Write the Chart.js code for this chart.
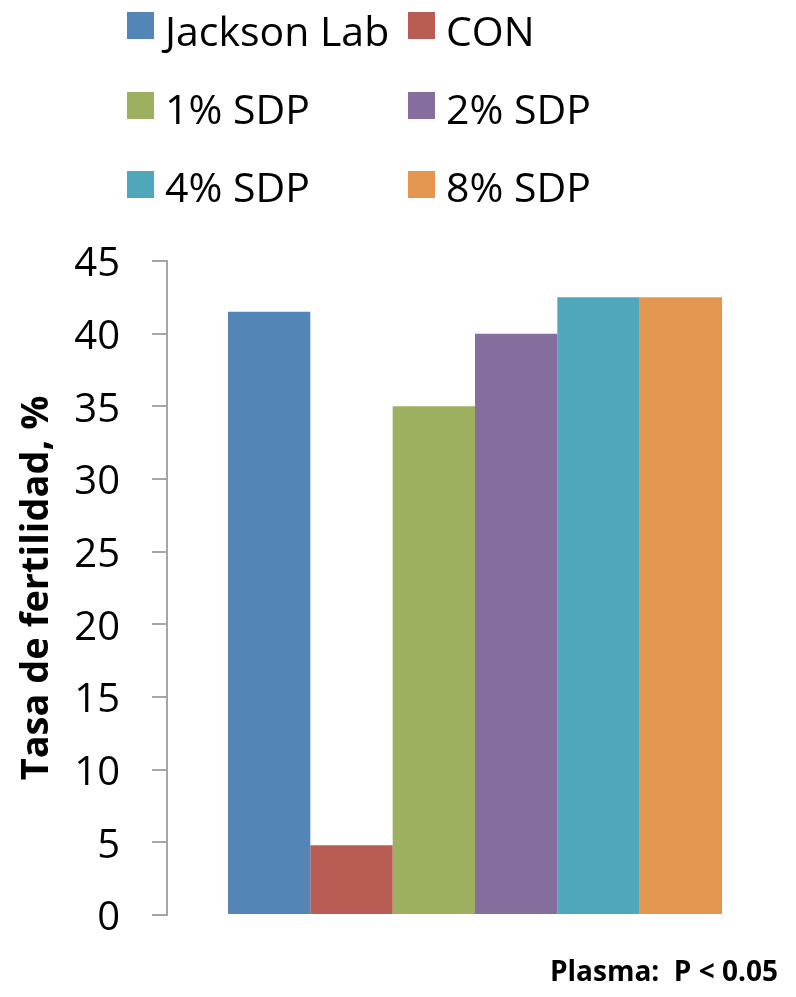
<!DOCTYPE html>
<html>
<head>
<meta charset="utf-8">
<script src="https://cdn.jsdelivr.net/npm/chart.js@4.4.1/dist/chart.umd.min.js"></script>
<style>
  html, body { margin: 0; padding: 0; background: #ffffff; }
  #wrap { width: 796px; height: 997px; }
</style>
</head>
<body>
<div id="wrap"><canvas id="chart" width="796" height="997"></canvas></div>
<script>
// One group of bars, one bar per treatment
const categories = [''];
const seriesLabels = ['Jackson Lab', 'CON', '1% SDP', '2% SDP', '4% SDP', '8% SDP'];
const seriesValues = [41.5, 4.8, 35, 40, 42.5, 42.5];
const seriesColors = ['#5386b6', '#b95c53', '#9cb05f', '#856e9e', '#4fa7bb', '#e3964f'];
const yTickMin = 0;
const yTickMax = 45;
const yTickStep = 5;
const yAxisTitle = 'Tasa de fertilidad, %';
const footNote = 'Plasma:  P < 0.05';

const FONT = '"Open Sans", "Noto Sans", sans-serif';

// Two-column legend above the plot, built from the datasets
const gridLegend = {
  id: 'gridLegend',
  afterDraw(chart) {
    const ctx = chart.ctx;
    const colX = [127, 408];
    const boxTop = [12, 92, 171];
    const baseY = [46, 124, 202];
    ctx.save();
    ctx.font = '41px ' + FONT;
    ctx.textAlign = 'left';
    ctx.textBaseline = 'alphabetic';
    chart.data.datasets.forEach((ds, i) => {
      const col = i % 2, row = Math.floor(i / 2);
      ctx.fillStyle = ds.backgroundColor;
      ctx.fillRect(colX[col], boxTop[row], 27, 27);
      ctx.fillStyle = '#000000';
      ctx.fillText(ds.label, colX[col] + 38, baseY[row]);
    });
    // significance note, bottom right
    ctx.font = 'bold 28px ' + FONT;
    ctx.textAlign = 'right';
    ctx.fillText(footNote, 778, 981);
    ctx.restore();
  }
};

const datasets = seriesLabels.map((label, i) => ({
  label: label,
  data: [seriesValues[i]],
  backgroundColor: seriesColors[i],
  borderWidth: 0,
  categoryPercentage: 0.802,
  barPercentage: 1.0
}));

new Chart(document.getElementById('chart'), {
  type: 'bar',
  data: { labels: categories, datasets: datasets },
  options: {
    responsive: false,
    animation: false,
    layout: { padding: { top: 261, right: 13, bottom: 82, left: 0 } },
    plugins: {
      legend: { display: false },
      tooltip: { enabled: false },
      title: { display: false }
    },
    scales: {
      x: { display: false },
      y: {
        min: yTickMin,
        max: yTickMax,
        ticks: {
          stepSize: yTickStep,
          padding: 32,
          labelOffset: 4,
          color: '#000000',
          font: { family: FONT, size: 40 }
        },
        grid: {
          drawOnChartArea: false,
          drawTicks: true,
          tickLength: 15,
          color: '#a6a6a6',
          lineWidth: 2
        },
        border: { display: true, color: '#a6a6a6', width: 2 },
        title: {
          display: true,
          text: yAxisTitle,
          color: '#000000',
          font: { family: FONT, size: 38, weight: 'bold' },
          padding: { top: 14, bottom: 0 }
        },
        afterFit(scale) { scale.width = 167; }
      }
    }
  },
  plugins: [gridLegend]
});
</script>
</body>
</html>
